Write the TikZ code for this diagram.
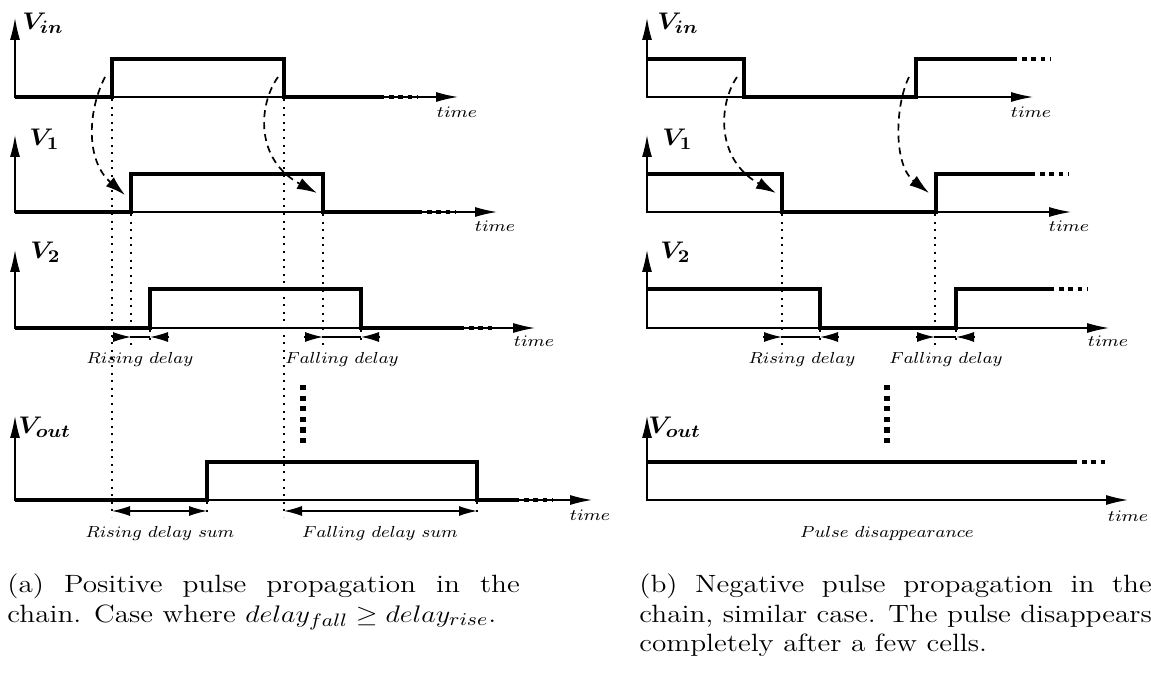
\documentclass[tikz,border=0pt]{standalone}
\usepackage{graphicx}
\usetikzlibrary{arrows.meta}
\newcommand{\hsc}[2]{\scalebox{#1}[1]{#2}}
\tikzset{
 axes/.style={line width=0.65pt, {Latex[length=11pt,width=5pt]}-{Latex[length=11pt,width=5pt]}},
 sig/.style={line width=2pt},
 sigdash/.style={line width=2pt, dash pattern=on 2.2pt off 2.4pt},
 dots/.style={line width=1pt, dash pattern=on 1pt off 2.8pt},
 vdots/.style={line width=2.6pt, dash pattern=on 2.6pt off 2.7pt},
 curv/.style={line width=0.85pt, dash pattern=on 3.5pt off 2.5pt, -{Latex[length=10pt,width=6pt]}},
 dimhead/.style={line width=0.6pt, -{Latex[length=9pt,width=5pt]}},
 dimline/.style={line width=0.6pt},
 dimboth/.style={line width=0.6pt, {Latex[length=9pt,width=5pt]}-{Latex[length=9pt,width=5pt]}},
 vlab/.style={anchor=base west, inner sep=0pt, font=\fontsize{13}{15}\selectfont\boldmath},
 tlab/.style={inner sep=0pt, font=\fontsize{8}{9}\selectfont},
 dlab/.style={inner sep=0pt, font=\fontsize{8}{9}\selectfont},
 captxt/.style={anchor=base west, inner sep=0pt, font=\fontsize{12.5}{15}\selectfont},
}
\newcommand{\vl}[1]{\hsc{1.08}{$#1$}}
\newcommand{\tl}{\hsc{1.15}{$time$}}
\newcommand{\dl}[1]{\hsc{1.1}{$#1$}}
\newcommand{\cp}[1]{\hsc{1.17}{#1}}
\begin{document}
\begin{tikzpicture}[x=0.5pt,y=-0.5pt]
\useasboundingbox (0,0) rectangle (1151,673);

% ================= LEFT PANEL =================
% dotted guides
\draw[dots] (112,99) -- (112,517);
\draw[dots] (284,99) -- (284,517);
\draw[dots] (131,214) -- (131,345);
\draw[dots] (323,214) -- (323,345);
\draw[dots] (150,330) -- (150,345);
\draw[dots] (361,330) -- (361,345);
\draw[dots] (207,502) -- (207,517);
\draw[dots] (477,502) -- (477,517);

% axes
\draw[axes] (15,18) |- (458,97);
\draw[axes] (15,135) |- (497,212);
\draw[axes] (15,250) |- (535,328);
\draw[axes] (15,416) |- (592,500);

% signals
\draw[sig] (15,97) -- (112,97) -- (112,59) -- (284,59) -- (284,97) -- (380,97);
\draw[sigdash] (380,97) -- (417,97);
\draw[sig] (15,212) -- (131,212) -- (131,174) -- (323,174) -- (323,212) -- (418,212);
\draw[sigdash] (418,212) -- (455,212);
\draw[sig] (15,328) -- (150,328) -- (150,289) -- (361,289) -- (361,328) -- (460,328);
\draw[sigdash] (460,328) -- (494,328);
\draw[sig] (15,500) -- (207,500) -- (207,462) -- (477,462) -- (477,500) -- (515,500);
\draw[sigdash] (515,500) -- (552,500);

% labels
\node[vlab] (lvin) at (22,30) {\vl{V_{in}}};
\node[vlab] (lv1) at (29,146) {\vl{V_1}};
\node[vlab] (lv2) at (30,259) {\vl{V_2}};
\node[vlab] (lvout) at (18,434) {\vl{V_{out}}};
\node[tlab] (lt1) at (457,112) {\tl};
\node[tlab] (lt2) at (495,226) {\tl};
\node[tlab] (lt3) at (534,341) {\tl};
\node[tlab] (lt4) at (590,515) {\tl};

% propagation arrows
\draw[curv] (105,77) .. controls (88,110) and (85,160) .. (125,195);
\draw[curv] (278,77) .. controls (258,105) and (255,160) .. (317,193);

% delays
\draw[dimhead] (112,337) -- (131,337);
\draw[dimline] (131,337) -- (150,337);
\draw[dimhead] (169,337) -- (150,337);
\draw[dimhead] (304,337) -- (323,337);
\draw[dimline] (323,337) -- (361,337);
\draw[dimhead] (380,337) -- (361,337);
\node[dlab] (lrd) at (140,360) {\dl{Rising\ delay}};
\node[dlab] (lfd) at (342,360) {\dl{Falling\ delay}};

\draw[vdots] (303,385) -- (303,444);

\draw[dimboth] (112,511) -- (207,511);
\draw[dimboth] (284,511) -- (477,511);
\node[dlab] (lrs) at (160,533) {\dl{Rising\ delay\ sum}};
\node[dlab] (lfs) at (380,533) {\dl{Falling\ delay\ sum}};

% caption (a)
\node[captxt] (capa1) at (7,592) {\cp{\makebox[219pt][s]{(a) Positive pulse propagation in the}}};
\node[captxt] (capa2) at (7,622) {\cp{chain. Case where $delay_{fall} \geq delay_{rise}$.}};

% ================= RIGHT PANEL =================
\draw[dots] (782,214) -- (782,345);
\draw[dots] (935,214) -- (935,345);
\draw[dots] (820,330) -- (820,345);
\draw[dots] (956,330) -- (956,345);

\draw[axes] (647,18) |- (1033,97);
\draw[axes] (647,135) |- (1071,212);
\draw[axes] (647,250) |- (1109,328);
\draw[axes] (647,416) |- (1128,500);

\draw[sig] (647,59) -- (744,59) -- (744,97) -- (916,97) -- (916,59) -- (1013,59);
\draw[sigdash] (1013,59) -- (1050,59);
\draw[sig] (647,174) -- (782,174) -- (782,212) -- (936,212) -- (936,174) -- (1031,174);
\draw[sigdash] (1031,174) -- (1068,174);
\draw[sig] (647,289) -- (820,289) -- (820,328) -- (956,328) -- (956,289) -- (1050,289);
\draw[sigdash] (1050,289) -- (1088,289);
\draw[sig] (647,462) -- (1073,462);
\draw[sigdash] (1073,462) -- (1109,462);

\node[vlab] (rvin) at (657,30) {\vl{V_{in}}};
\node[vlab] (rv1) at (662,146) {\vl{V_1}};
\node[vlab] (rv2) at (660,259) {\vl{V_2}};
\node[vlab] (rvout) at (648,434) {\vl{V_{out}}};
\node[tlab] (rt1) at (1031,112) {\tl};
\node[tlab] (rt2) at (1069,226) {\tl};
\node[tlab] (rt3) at (1108,341) {\tl};
\node[tlab] (rt4) at (1128,516) {\tl};

\draw[curv] (737,77) .. controls (718,105) and (716,160) .. (776,193);
\draw[curv] (909,77) .. controls (895,105) and (893,165) .. (929,193);

\draw[dimhead] (763,337) -- (782,337);
\draw[dimline] (782,337) -- (820,337);
\draw[dimhead] (839,337) -- (820,337);
\draw[dimhead] (916,337) -- (935,337);
\draw[dimline] (935,337) -- (956,337);
\draw[dimhead] (975,337) -- (956,337);
\node[dlab] (rrd) at (802,360) {\dl{Rising\ delay}};
\node[dlab] (rfd) at (946,360) {\dl{Falling\ delay}};

\draw[vdots] (887,385) -- (887,444);
\node[dlab] (rpd) at (887,533) {\dl{Pulse\ disappearance}};

\node[captxt] (capb1) at (639,592) {\cp{\makebox[219pt][s]{(b) Negative pulse propagation in the}}};
\node[captxt] (capb2) at (639,622) {\cp{\makebox[219pt][s]{chain, similar case. The pulse disappears}}};
\node[captxt] (capb3) at (639,651) {\cp{completely after a few cells.}};
\end{tikzpicture}
\end{document}
